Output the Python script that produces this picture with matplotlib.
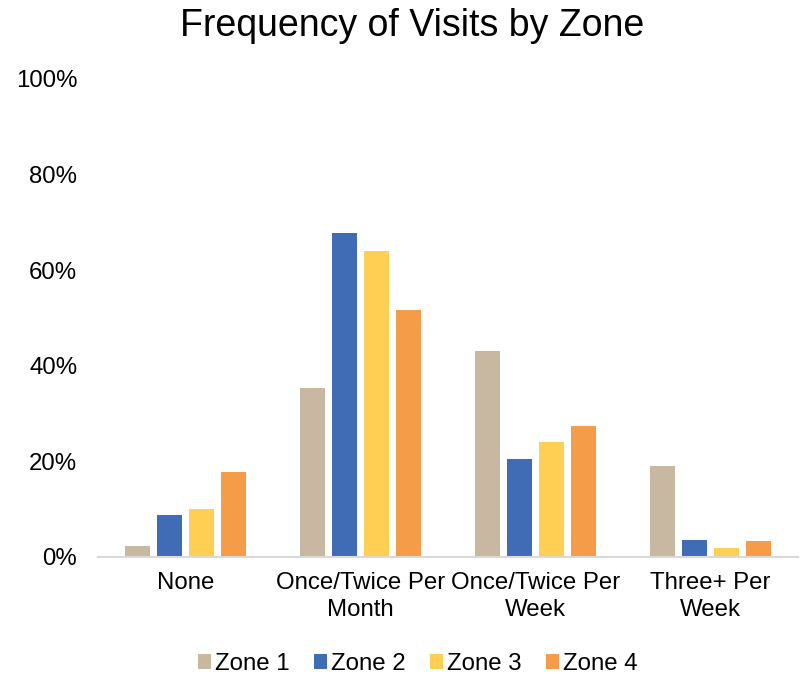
import numpy as np
import matplotlib.pyplot as plt
from matplotlib.ticker import PercentFormatter

plt.rcParams['font.family'] = ['Liberation Sans', 'DejaVu Sans']

categories = ["None", "Once/Twice Per\nMonth", "Once/Twice Per\nWeek", "Three+ Per\nWeek"]
zones = ["Zone 1", "Zone 2", "Zone 3", "Zone 4"]
zone1 = [2.4, 35.3, 43.0, 19.1]
zone2 = [8.7, 67.7, 20.4, 3.5]
zone3 = [10.1, 64.1, 24.1, 1.9]
zone4 = [17.7, 51.7, 27.3, 3.4]
colors = ["#C8B8A2", "#3F6CB4", "#FFCF53", "#F49C48"]

values = [zone1, zone2, zone3, zone4]

fig = plt.figure(figsize=(8.02, 6.74), dpi=100)
ax = fig.add_axes([0.1222, 0.1736, 0.8728, 0.7092])

x = np.arange(len(categories))
step = 0.183
width = 0.143
for i, (name, vals) in enumerate(zip(zones, values)):
    ax.bar(x + (i - 1.5) * step, vals, width, color=colors[i], label=name)

ax.set_xlim(-0.5, len(categories) - 0.5)
ax.set_ylim(0, 100)
ax.set_yticks(np.arange(0, 101, 20))
ax.yaxis.set_major_formatter(PercentFormatter(decimals=0))
ax.set_xticks(x)
ax.set_xticklabels(categories, linespacing=1.25)
ax.tick_params(axis='both', length=0, labelsize=17.3, labelcolor='#000000')
ax.tick_params(axis='y', pad=15)
ax.tick_params(axis='x', pad=11)
for s in ['top', 'right', 'left']:
    ax.spines[s].set_visible(False)
ax.spines['bottom'].set_color('#D9D9D9')
ax.spines['bottom'].set_linewidth(1.5)

fig.text(0.514, 0.962, "Frequency of Visits by Zone", fontsize=27, ha='center', va='center')
fig.legend(loc='center', bbox_to_anchor=(0.521, 0.015), ncol=4, frameon=False,
           fontsize=17.3, handlelength=0.55, handleheight=0.55, handletextpad=0.17,
           columnspacing=1.0, borderpad=0)

fig.savefig("out.png", dpi=100)
